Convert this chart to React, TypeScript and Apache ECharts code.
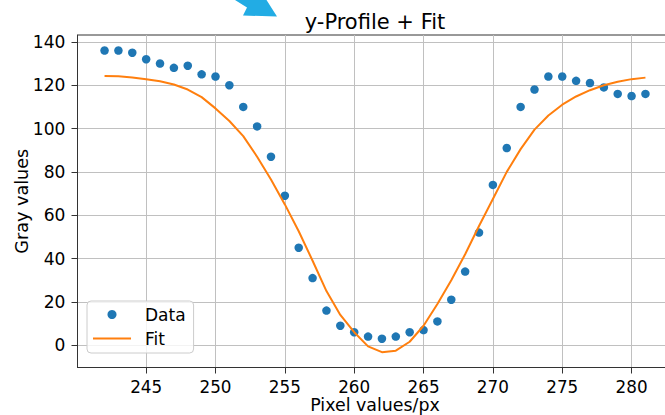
import React, { useEffect, useRef } from "react";
import * as echarts from "echarts";

const pixels = [242, 243, 244, 245, 246, 247, 248, 249, 250, 251, 252, 253, 254, 255, 256, 257, 258, 259, 260, 261, 262, 263, 264, 265, 266, 267, 268, 269, 270, 271, 272, 273, 274, 275, 276, 277, 278, 279, 280, 281];
const grayData = [136, 136, 135, 132, 130, 128, 129, 125, 124, 120, 110, 101, 87, 69, 45, 31, 16, 9, 6, 4, 3, 4, 6, 7, 11, 21, 34, 52, 74, 91, 110, 118, 124, 124, 122, 121, 119, 116, 115, 116];
const grayFit = [124.3, 124.1, 123.6, 122.8, 121.8, 120.3, 118, 114.5, 109.3, 103.5, 96.5, 87, 76.5, 65, 52.6, 39, 25, 14, 6, -0.5, -3.2, -2.5, 1.6, 9, 19, 30, 42, 55, 67.5, 80, 90.5, 99.5, 106, 111, 114.8, 117.7, 120, 121.6, 122.8, 123.5];
const xTicks = [245, 250, 255, 260, 265, 270, 275, 280];
const yTicks = [0, 20, 40, 60, 80, 100, 120, 140];

const FONT = "DejaVu Sans";

export default function App() {
  const ref = useRef<HTMLDivElement>(null);
  useEffect(() => {
    if (!ref.current) return;
    const chart = echarts.init(ref.current, null, { renderer: "svg" });
    const option: any = {
      animation: false,
      backgroundColor: "#ffffff",
      textStyle: { fontFamily: FONT },
      title: {
        text: "y-Profile + Fit",
        left: 375,
        top: 11,
        padding: 0,
        textAlign: "center",
        textStyle: { fontFamily: FONT, fontSize: 21, fontWeight: "normal", color: "#000" },
      },
      grid: {
        left: 77.5,
        top: 35,
        width: 595,
        height: 332.5,
        show: true,
        borderColor: "#333",
        borderWidth: 1,
        backgroundColor: "transparent",
        containLabel: false,
        outerBoundsMode: "none",
      },
      legend: {
        orient: "vertical",
        left: 87,
        top: 301,
        padding: [5, 8, 6, 6],
        itemGap: 7,
        itemWidth: 38,
        itemHeight: 9,
        symbolKeepAspect: true,
        backgroundColor: "rgba(255,255,255,0.8)",
        borderColor: "#cccccc",
        borderWidth: 1,
        borderRadius: 4,
        textStyle: { fontFamily: FONT, fontSize: 17, color: "#000", padding: [0, 0, 0, 9] },
        data: [
          { name: "Data", icon: "circle" },
          { name: "Fit", icon: "path://M0,0 L38,0 L38,2 L0,2 Z" },
        ],
      },
      xAxis: {
        type: "value",
        min: 240.05,
        max: 282.95,
        minInterval: 5,
        maxInterval: 5,
        name: "Pixel values/px",
        nameLocation: "middle",
        nameGap: 28,
        nameMoveOverlap: false,
        nameTextStyle: { fontFamily: FONT, fontSize: 17.4, lineHeight: 18, color: "#000" },
        axisLine: { show: true, onZero: false, lineStyle: { color: "#333", width: 1 } },
        axisTick: { show: true, length: 6, customValues: xTicks, lineStyle: { color: "#333", width: 1 } },
        axisLabel: {
          customValues: xTicks,
          margin: 11,
          fontFamily: FONT,
          fontSize: 16.8,
          lineHeight: 17,
          color: "#000",
        },
        splitLine: { show: true, lineStyle: { color: "#c0c0c0", width: 1 } },
      },
      yAxis: {
        type: "value",
        min: -10.27,
        max: 143.17,
        minInterval: 20,
        maxInterval: 20,
        name: "Gray values",
        nameLocation: "middle",
        nameGap: 47,
        nameMoveOverlap: false,
        nameTextStyle: { fontFamily: FONT, fontSize: 17.6, color: "#000" },
        axisLine: { show: true, onZero: false, lineStyle: { color: "#333", width: 1 } },
        axisTick: { show: true, length: 6, customValues: yTicks, lineStyle: { color: "#333", width: 1 } },
        axisLabel: {
          customValues: yTicks,
          margin: 12,
          fontFamily: FONT,
          fontSize: 17.1,
          color: "#000",
        },
        splitLine: { show: true, lineStyle: { color: "#c0c0c0", width: 1 } },
      },
      graphic: [
        {
          type: "polygon",
          silent: true,
          shape: {
            points: [
              [235, 0],
              [247, 7.5],
              [243, 15.5],
              [277, 16.5],
              [266.5, 0],
            ],
          },
          style: { fill: "#22ace4" },
        },
      ],
      series: [
        {
          name: "Data",
          type: "scatter",
          data: pixels.map((x, i) => [x, grayData[i]]),
          symbol: "circle",
          symbolSize: 8.5,
          itemStyle: { color: "#1f77b4", opacity: 1 },
          z: 3,
        },
        {
          name: "Fit",
          type: "line",
          data: pixels.map((x, i) => [x, grayFit[i]]),
          symbol: "none",
          showSymbol: false,
          color: "#ff7f0e",
          lineStyle: { color: "#ff7f0e", width: 2 },
          itemStyle: { color: "#ff7f0e" },
          z: 4,
        },
      ],
    };
    chart.setOption(option);
    return () => chart.dispose();
  }, []);
  return (
    <div
      ref={ref}
      style={{ position: "absolute", left: 0, top: 0, width: 665, height: 415 }}
    />
  );
}
